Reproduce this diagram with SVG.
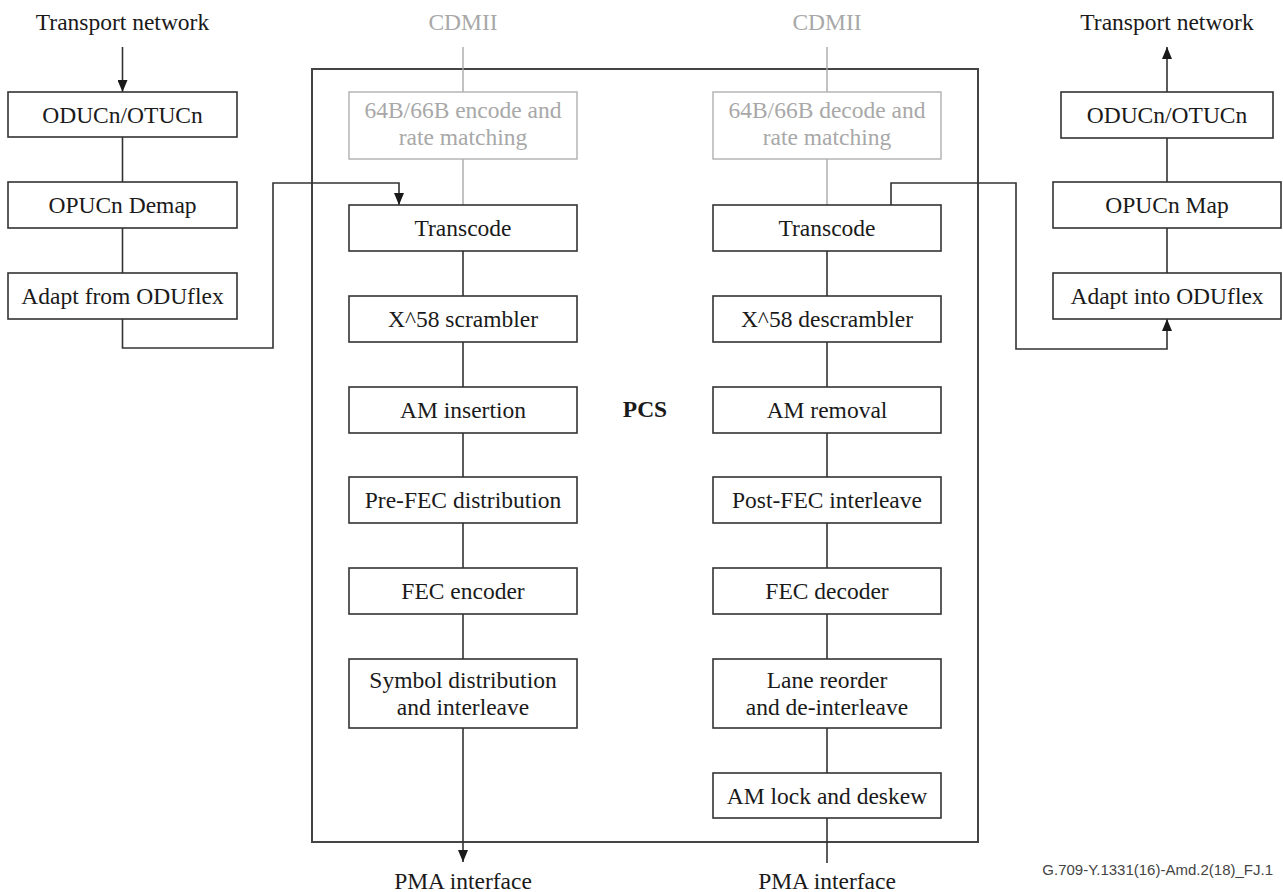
<svg xmlns="http://www.w3.org/2000/svg" width="1283" height="892" viewBox="0 0 1283 892">
<style>
  .box { fill: #ffffff; stroke: #333333; stroke-width: 1.6; }
  .gbox { fill: #ffffff; stroke: #b0b0b0; stroke-width: 1.4; }
  .pcs { fill: none; stroke: #444444; stroke-width: 2; }
  .t { font-family: "Liberation Serif", "Times New Roman", serif; font-size: 23.5px; fill: #1a1a1a; text-anchor: middle; }
  .g { fill: #a8a8a8; }
  .b { font-weight: bold; }
  .c { fill: none; stroke: #333333; stroke-width: 1.6; }
  .gc { fill: none; stroke: #a8a8a8; stroke-width: 1.4; }
  .foot { font-family: "Liberation Sans", Arial, sans-serif; font-size: 15px; fill: #444444; text-anchor: end; }
</style>
<defs>
  <marker id="arr" viewBox="0 0 10 10" refX="10" refY="5" markerWidth="12" markerHeight="10" preserveAspectRatio="none" orient="auto" markerUnits="userSpaceOnUse">
    <path d="M0,0 L10,5 L0,10 z" fill="#1a1a1a"/>
  </marker>
</defs>
<rect width="1283" height="892" fill="#ffffff"/>

<g id="pcs-frame">
  <rect class="pcs" x="312" y="69" width="666" height="773"/>
  <text class="t b" x="645" y="417">PCS</text>
</g>

<g id="connectors">
  <!-- left external chain -->
  <line class="c" x1="122.5" y1="47" x2="122.5" y2="92" marker-end="url(#arr)"/>
  <line class="c" x1="122.5" y1="137" x2="122.5" y2="182"/>
  <line class="c" x1="122.5" y1="228" x2="122.5" y2="273"/>
  <polyline class="c" points="122.5,319 122.5,348 273,348 273,183 399,183 399,205" marker-end="url(#arr)"/>
  <!-- right external chain -->
  <line class="c" x1="1167" y1="92" x2="1167" y2="47" marker-end="url(#arr)"/>
  <line class="c" x1="1167" y1="138" x2="1167" y2="182"/>
  <line class="c" x1="1167" y1="228" x2="1167" y2="273"/>
  <polyline class="c" points="891,205 891,183 1016,183 1016,349 1167,349 1167,319" marker-end="url(#arr)"/>
  <!-- left PCS column -->
  <line class="gc" x1="463" y1="47" x2="463" y2="92"/>
  <line class="gc" x1="463" y1="159" x2="463" y2="205"/>
  <line class="c" x1="463" y1="251" x2="463" y2="296"/>
  <line class="c" x1="463" y1="342" x2="463" y2="387"/>
  <line class="c" x1="463" y1="433" x2="463" y2="477"/>
  <line class="c" x1="463" y1="523" x2="463" y2="568"/>
  <line class="c" x1="463" y1="614" x2="463" y2="659"/>
  <line class="c" x1="463" y1="728" x2="463" y2="862" marker-end="url(#arr)"/>
  <!-- right PCS column -->
  <line class="gc" x1="827" y1="47" x2="827" y2="92"/>
  <line class="gc" x1="827" y1="159" x2="827" y2="205"/>
  <line class="c" x1="827" y1="251" x2="827" y2="296"/>
  <line class="c" x1="827" y1="342" x2="827" y2="387"/>
  <line class="c" x1="827" y1="433" x2="827" y2="477"/>
  <line class="c" x1="827" y1="523" x2="827" y2="568"/>
  <line class="c" x1="827" y1="614" x2="827" y2="659"/>
  <line class="c" x1="827" y1="728" x2="827" y2="773"/>
  <line class="c" x1="827" y1="818" x2="827" y2="863"/>
</g>

<g id="labels">
  <text class="t" x="122.5" y="30">Transport network</text>
  <text class="t" x="1167" y="30">Transport network</text>
  <text class="t g" x="463" y="30">CDMII</text>
  <text class="t g" x="827" y="30">CDMII</text>
  <text class="t" x="463" y="889">PMA interface</text>
  <text class="t" x="827" y="889">PMA interface</text>
  <text class="foot" x="1273" y="875">G.709-Y.1331(16)-Amd.2(18)_FJ.1</text>
</g>

<!-- left external -->
<g id="l-oducn"><rect class="box" x="8" y="92" width="229" height="45"/><text class="t" x="122.5" y="123">ODUCn/OTUCn</text></g>
<g id="l-opucn"><rect class="box" x="8" y="182" width="229" height="46"/><text class="t" x="122.5" y="213">OPUCn Demap</text></g>
<g id="l-adapt"><rect class="box" x="8" y="273" width="229" height="46"/><text class="t" x="122.5" y="304">Adapt from ODUflex</text></g>

<!-- right external -->
<g id="r-oducn"><rect class="box" x="1061" y="92" width="212" height="46"/><text class="t" x="1167" y="123">ODUCn/OTUCn</text></g>
<g id="r-opucn"><rect class="box" x="1053" y="182" width="228" height="46"/><text class="t" x="1167" y="213">OPUCn Map</text></g>
<g id="r-adapt"><rect class="box" x="1053" y="273" width="228" height="46"/><text class="t" x="1167" y="304">Adapt into ODUflex</text></g>

<!-- PCS transmit column -->
<g id="tx-64b"><rect class="gbox" x="349" y="92" width="228" height="67"/><text class="t g" x="463" y="118">64B/66B encode and</text><text class="t g" x="463" y="145">rate matching</text></g>
<g id="tx-transcode"><rect class="box" x="349" y="205" width="228" height="46"/><text class="t" x="463" y="236">Transcode</text></g>
<g id="tx-scrambler"><rect class="box" x="349" y="296" width="228" height="46"/><text class="t" x="463" y="327">X^58 scrambler</text></g>
<g id="tx-am"><rect class="box" x="349" y="387" width="228" height="46"/><text class="t" x="463" y="418">AM insertion</text></g>
<g id="tx-prefec"><rect class="box" x="349" y="477" width="228" height="46"/><text class="t" x="463" y="508">Pre-FEC distribution</text></g>
<g id="tx-fec"><rect class="box" x="349" y="568" width="228" height="46"/><text class="t" x="463" y="599">FEC encoder</text></g>
<g id="tx-symbol"><rect class="box" x="349" y="659" width="228" height="69"/><text class="t" x="463" y="688">Symbol distribution</text><text class="t" x="463" y="715">and interleave</text></g>

<!-- PCS receive column -->
<g id="rx-64b"><rect class="gbox" x="713" y="92" width="228" height="67"/><text class="t g" x="827" y="118">64B/66B decode and</text><text class="t g" x="827" y="145">rate matching</text></g>
<g id="rx-transcode"><rect class="box" x="713" y="205" width="228" height="46"/><text class="t" x="827" y="236">Transcode</text></g>
<g id="rx-descrambler"><rect class="box" x="713" y="296" width="228" height="46"/><text class="t" x="827" y="327">X^58 descrambler</text></g>
<g id="rx-am"><rect class="box" x="713" y="387" width="228" height="46"/><text class="t" x="827" y="418">AM removal</text></g>
<g id="rx-postfec"><rect class="box" x="713" y="477" width="228" height="46"/><text class="t" x="827" y="508">Post-FEC interleave</text></g>
<g id="rx-fec"><rect class="box" x="713" y="568" width="228" height="46"/><text class="t" x="827" y="599">FEC decoder</text></g>
<g id="rx-lane"><rect class="box" x="713" y="659" width="228" height="69"/><text class="t" x="827" y="688">Lane reorder</text><text class="t" x="827" y="715">and de-interleave</text></g>
<g id="rx-amlock"><rect class="box" x="713" y="773" width="228" height="45"/><text class="t" x="827" y="804">AM lock and deskew</text></g>
</svg>
